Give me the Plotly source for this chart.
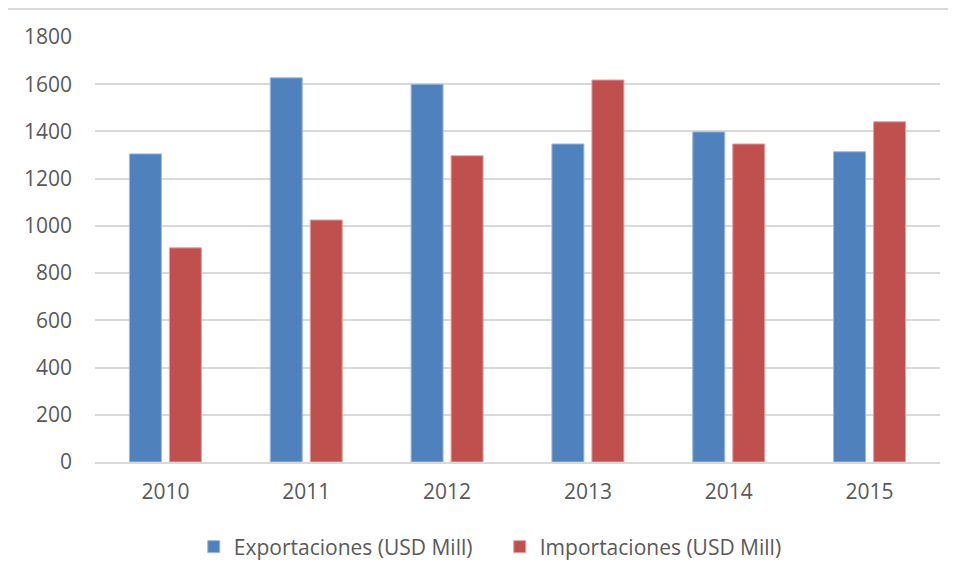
import plotly.graph_objects as go

years = ["2010", "2011", "2012", "2013", "2014", "2015"]
exportaciones = [1305, 1627, 1600, 1347, 1398, 1314]
importaciones = [907, 1025, 1297, 1618, 1347, 1441]
y_ticks = [0, 200, 400, 600, 800, 1000, 1200, 1400, 1600, 1800]

name_exp = "Exportaciones (USD Mill)"
name_imp = "Importaciones (USD Mill)"

fig = go.Figure()
fig.add_trace(go.Bar(
    x=years, y=exportaciones, name=name_exp,
    marker=dict(color="#4F81BD", line=dict(color="#9DB9DE", width=1)),
))
fig.add_trace(go.Bar(
    x=years, y=importaciones, name=name_imp,
    marker=dict(color="#C0504D", line=dict(color="#E0A3A1", width=1)),
))

font_family = "Open Sans, Liberation Sans, sans-serif"
fs = 21
fig.update_layout(
    width=956, height=583,
    margin=dict(l=87, r=24, t=29, b=129),
    paper_bgcolor="white", plot_bgcolor="white",
    barmode="group", bargap=0.432, bargroupgap=0.2,
    font=dict(family=font_family, size=fs, color="#595959"),
    showlegend=True,
    legend=dict(orientation="h", x=0.479, xanchor="center", y=-0.2, yanchor="middle",
                font=dict(size=fs, color="#595959"), itemwidth=30,
                entrywidth=261, entrywidthmode="pixels"),
    xaxis=dict(showgrid=False, showline=True, linecolor="#D9D9D9", linewidth=2,
               ticks="", ticklabelstandoff=10, tickfont=dict(size=fs, color="#595959")),
    yaxis=dict(range=[0, 1800], tickvals=y_ticks, showgrid=True, gridcolor="#D9D9D9",
               gridwidth=2, zeroline=False, showline=False, ticks="",
               ticklabelstandoff=22, tickfont=dict(size=fs, color="#595959")),
)

# chart frame (left and top border)
x_left = (7 - 95) / 845
y_top = 1 + (37 - 9) / 425
fig.add_shape(type="line", xref="paper", yref="paper", x0=x_left, x1=x_left,
              y0=-0.5, y1=y_top, line=dict(color="#D9D9D9", width=2))
fig.add_shape(type="line", xref="paper", yref="paper", x0=x_left, x1=1.05,
              y0=y_top, y1=y_top, line=dict(color="#D9D9D9", width=2))

fig.write_html("out.html")
